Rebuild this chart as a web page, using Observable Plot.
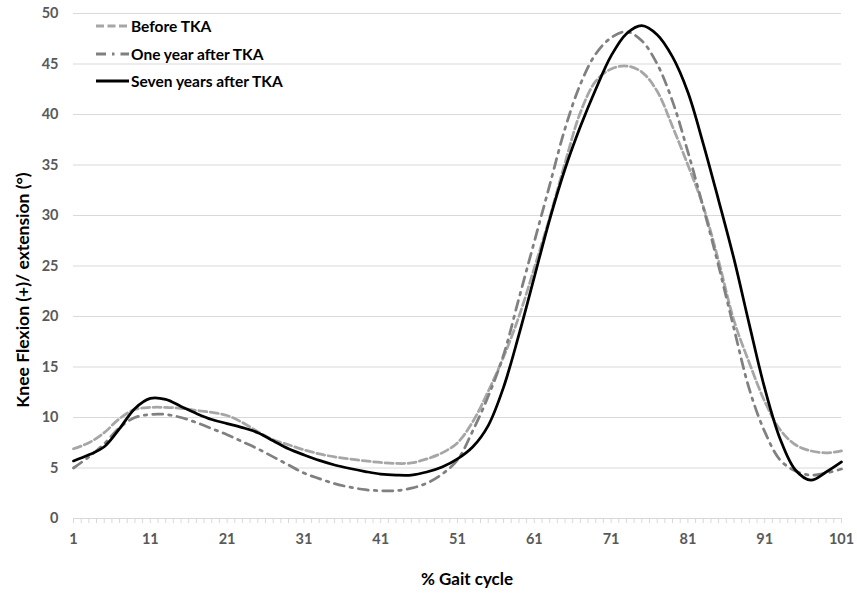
<!DOCTYPE html>
<html><head><meta charset="utf-8">
<script src="https://cdn.jsdelivr.net/npm/d3@7"></script>
<script src="https://cdn.jsdelivr.net/npm/@observablehq/plot@0.6"></script>
<style>
body{margin:0;background:#fff;}
#wrap{position:relative;width:857px;height:594px;font-family:Lato,"Open Sans",sans-serif;}
.lg{position:absolute;left:96px;height:20px;display:flex;align-items:center;font-weight:bold;font-size:15.5px;color:#000;white-space:nowrap;}
.lg svg{margin-right:2px;}
#xt{position:absolute;left:83px;width:768px;top:568px;text-align:center;font-weight:bold;font-size:17px;}
#yt{position:absolute;left:22px;top:290px;transform:translate(-50%,-50%) rotate(-90deg);font-weight:bold;font-size:17.5px;white-space:nowrap;}
</style></head><body><div id="wrap"></div>
<script>
const gait = [1,3,5,7,9,11,13,15,17,19,21,23,25,27,29,31,33,35,37,39,41,43,45,47,49,51,53,55,57,59,61,63,65,67,69,71,73,75,77,79,81,83,85,87,89,91,93,95,97,99,101];
const beforeTKA = [6.9,7.5,8.5,9.9,10.8,11.0,11.0,10.9,10.7,10.5,10.2,9.5,8.6,7.8,7.3,6.8,6.4,6.1,5.9,5.7,5.55,5.45,5.5,5.9,6.5,7.5,9.6,12.6,16.0,20.0,24.8,29.8,35.2,40.2,43.3,44.5,44.8,44.2,42.3,38.8,35.0,30.9,25.5,19.6,15.4,11.6,8.8,7.3,6.7,6.5,6.7];
const oneYearAfterTKA = [5.0,6.1,7.4,9.0,10.0,10.3,10.3,10.0,9.5,8.9,8.3,7.6,6.9,6.1,5.3,4.5,3.95,3.45,3.1,2.85,2.75,2.75,3.0,3.5,4.4,5.8,8.7,12.1,16.2,21.8,27.4,33.0,38.6,43.0,46.0,47.6,48.2,47.3,45.0,41.3,36.3,30.8,25.0,18.8,12.8,8.6,5.8,4.7,4.3,4.5,4.9];
const sevenYearsAfterTKA = [5.7,6.3,7.1,8.9,10.9,11.9,11.8,11.1,10.4,9.8,9.4,9.0,8.5,7.7,6.9,6.3,5.75,5.3,4.95,4.65,4.4,4.3,4.3,4.6,5.1,5.9,7.1,9.2,13.0,18.2,23.9,29.6,34.6,38.8,42.5,45.8,48.0,48.8,47.9,45.7,42.2,37.1,31.5,25.7,19.2,12.9,7.9,4.8,3.8,4.6,5.6];
const seriesNames = ["Before TKA","One year after TKA","Seven years after TKA"];
const seriesColors = ["#a6a6a6","#808080","#000000"];
const seriesDash = ["8,3.5","10,6,2.5,6",null];
const yTicks = [0,5,10,15,20,25,30,35,40,45,50];
const xTickLabels = [1,11,21,31,41,51,61,71,81,91,101];

const seriesValues = [beforeTKA, oneYearAfterTKA, sevenYearsAfterTKA];
const tables = seriesValues.map(vals => gait.map((g,i) => ({g, v: vals[i]})));

const chart = Plot.plot({
  width: 857, height: 594,
  marginTop: 13, marginBottom: 76, marginLeft: 73, marginRight: 16,
  x: {domain: [1,101]},
  y: {domain: [0,50]},
  style: {fontFamily: "Lato, 'Open Sans', sans-serif", background: "white", overflow: "visible"},
  marks: [
    Plot.gridY(yTicks, {stroke: "#d9d9d9", strokeOpacity: 1, strokeWidth: 1}),
    Plot.axisY(yTicks, {tickSize: 0, tickPadding: 15, fontSize: 14.5, fontWeight: "bold", fill: "#595959", label: null}),
    Plot.axisX(d3.range(1,102), {tickSize: 5, tickFormat: () => "", stroke: "#d9d9d9", label: null}),
    Plot.axisX(xTickLabels, {tickSize: 0, tickPadding: 15, fontSize: 14.5, fontWeight: "bold", fill: "#595959", label: null}),
    ...tables.map((t,i) => Plot.lineY(t, {x: "g", y: "v", curve: "catmull-rom", stroke: seriesColors[i], strokeWidth: 2.75, strokeDasharray: seriesDash[i]}))
  ]
});
const wrap = document.getElementById("wrap");
wrap.appendChild(chart);

const legendTops = [16, 43.5, 71];
seriesNames.forEach((name,i) => {
  const d = document.createElement("div");
  d.className = "lg";
  d.style.top = legendTops[i] + "px";
  d.innerHTML = `<svg width="33" height="6"><line x1="0" x2="33" y1="3" y2="3" stroke="${seriesColors[i]}" stroke-width="3" ${seriesDash[i] ? `stroke-dasharray="${seriesDash[i]}"` : ""}/></svg><span></span>`;
  d.querySelector("span").textContent = name;
  wrap.appendChild(d);
});
const xt = document.createElement("div"); xt.id = "xt"; xt.textContent = "% Gait cycle"; wrap.appendChild(xt);
const yt = document.createElement("div"); yt.id = "yt"; yt.textContent = "Knee Flexion (+)/ extension (°)"; wrap.appendChild(yt);
</script>
</body></html>
